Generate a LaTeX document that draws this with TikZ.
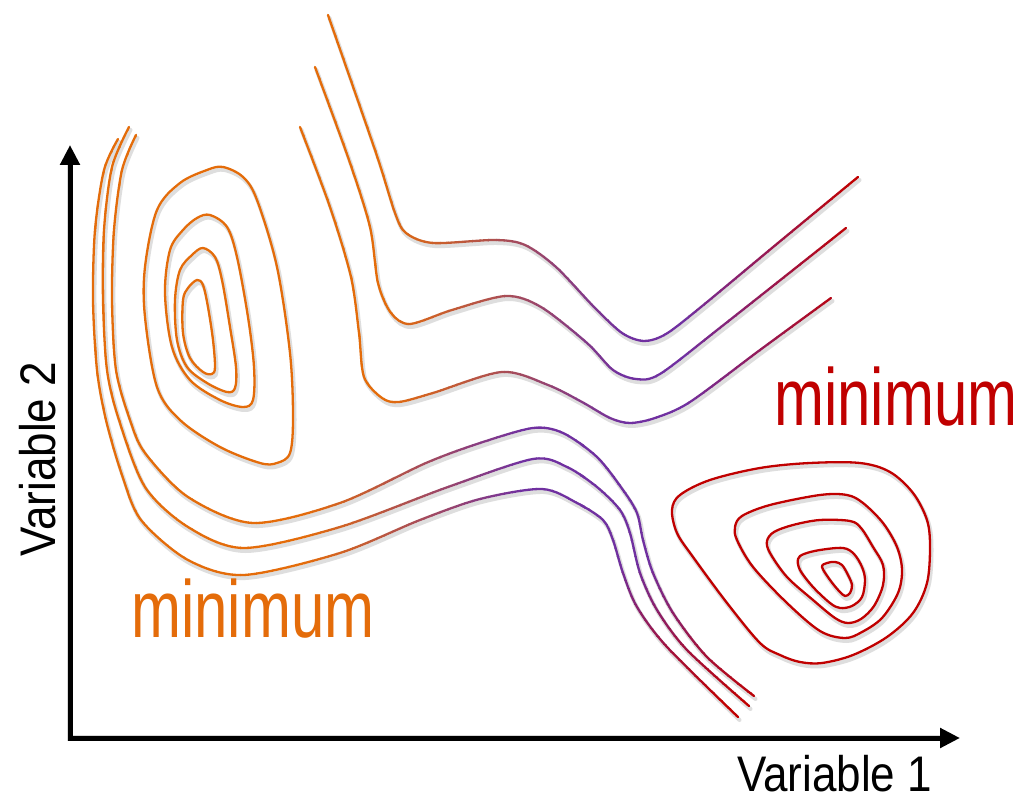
\documentclass[tikz,border=0pt]{standalone}
\usepackage{fontspec}
\setmainfont{Liberation Sans}
\usetikzlibrary{arrows.meta}
\definecolor{orng}{RGB}{228,108,10}
\definecolor{purp}{RGB}{112,48,160}
\definecolor{crim}{RGB}{192,0,0}
% upper valley curves
\newcommand\cUtop{plot[smooth,tension=.5] coordinates{(328,15) (376,153) (395,213) (406,233) (433,243) (495,240) (525,245) (556,267) (594,307) (622,333) (644,341) (666,334) (701,307) (778,243) (858,177)}}
\newcommand\cUmid{plot[smooth,tension=.5] coordinates{(315,67) (349,160) (370,227) (378,283) (391,313) (410,324) (452,310) (506,296) (541,307) (587,343) (613,370) (636,379) (660,374) (721,327) (846,228)}}
\newcommand\cUbot{plot[smooth,tension=.5] coordinates{(300,127) (330,207) (351,277) (359,333) (364,377) (382,398) (399,402) (433,393) (502,372) (548,385) (582,402) (610,418) (630,423) (655,418) (690,402) (760,350) (831,298)}}
% lower long curves
\newcommand\cLa{plot[smooth,tension=.5] coordinates{(118,139) (104,170) (95,230) (93,300) (97,370) (106,420) (122,475) (141,520) (188,560) (244,575) (340,553) (420,520) (480,499) (542,489) (577,503) (603,520) (613,540) (623,573) (637,607) (667,647) (738,717)}}
\newcommand\cLb{plot[smooth,tension=.5] coordinates{(129,127) (112,167) (104,230) (103,300) (107,370) (119,420) (145,487) (188,527) (244,548) (340,527) (448,487) (533,459) (567,467) (597,487) (620,510) (630,533) (640,573) (657,610) (687,650) (749,706)}}
\newcommand\cLc{plot[smooth,tension=.5] coordinates{(136,135) (122,170) (114,230) (112,300) (116,370) (130,420) (145,453) (188,497) (253,523) (340,503) (426,463) (480,443) (533,428) (563,433) (597,457) (623,490) (637,513) (643,540) (653,573) (673,613) (707,657) (754,696)}}
% orange closed loops
\newcommand\cOd{plot[smooth cycle,tension=.55] coordinates{(223,167) (243,177) (257,200) (277,267) (290,353) (293,417) (290,453) (277,463) (260,463) (220,447) (180,420) (157,387) (145,317) (145,267) (157,210) (180,183) (207,170)}}
\newcommand\cOc{plot[smooth cycle,tension=.55] coordinates{(210,215) (227,227) (237,257) (248,317) (254,367) (253,400) (243,407) (220,400) (190,380) (172,347) (165,293) (170,250) (183,230) (197,218)}}
\newcommand\cOb{plot[smooth cycle,tension=.55] coordinates{(203,248) (215,257) (222,280) (230,327) (236,367) (235,388) (227,392) (207,383) (187,367) (177,340) (175,300) (180,270) (192,255)}}
\newcommand\cOa{plot[smooth cycle,tension=.55] coordinates{(197,280) (203,285) (208,307) (213,340) (215,367) (212,374) (203,372) (190,358) (183,333) (183,300) (188,288)}}
% red closed loops
\newcommand\cRe{plot[smooth cycle,tension=.55] coordinates{(672,510) (680,495) (710,480) (760,468) (810,463) (860,463) (890,472) (913,493) (927,520) (930,547) (927,583) (913,613) (887,637) (853,655) (822,663) (800,662) (780,655) (760,643) (727,603) (693,557) (677,533)}}
\newcommand\cRd{plot[smooth cycle,tension=.55] coordinates{(735,527) (742,516) (770,505) (820,495) (847,495) (863,503) (883,523) (897,547) (902,570) (898,593) (882,618) (862,632) (845,638) (820,631) (787,603) (753,567) (737,540)}}
\newcommand\cRc{plot[smooth cycle,tension=.55] coordinates{(767,541) (774,532) (793,525) (820,520) (850,521) (861,528) (873,547) (883,565) (883,585) (874,606) (861,619) (848,623) (835,618) (813,600) (787,577) (770,553)}}
\newcommand\cRb{plot[smooth cycle,tension=.55] coordinates{(798,559) (804,554) (820,550) (843,548) (854,554) (862,567) (865,580) (862,597) (852,606) (840,608) (830,603) (813,587) (800,570)}}
\newcommand\cRa{plot[smooth cycle,tension=.55] coordinates{(822,567) (827,563) (835,562) (842,565) (848,575) (852,585) (850,593) (845,596) (839,591) (830,580)}}
\tikzset{
  cl/.style={line width=2.3pt, line cap=round, line join=round},
  shd/.style={line width=4pt, draw=black!13, line cap=round, line join=round},
  axis/.style={line width=5pt, line join=miter, {Triangle[length=20pt,width=19pt]}-{Triangle[length=20pt,width=19pt]}},
  lbl/.style={inner sep=0pt, anchor=base west, text depth=0pt},
}
\begin{document}
\begin{tikzpicture}[x=1pt,y=-1pt]
\useasboundingbox[fill=white] (0,0) rectangle (1017,799);
\coordinate (ytip) at (70,145);
\coordinate (origin) at (70,738);
\coordinate (xtip) at (960,738);
% shadows
\begin{scope}[shift={(1.5,3)}]
  \draw[shd] \cUtop \cUmid \cUbot \cLa \cLb \cLc;
  \draw[shd] \cOa \cOb \cOc \cOd \cRa \cRb \cRc \cRd \cRe;
  \draw[axis, draw=black!15, line width=6pt] (ytip) -- (origin) -- (xtip);
\end{scope}
% axes
\draw[axis] (ytip) -- (origin) -- (xtip);
% upper curves, colour changing along x
\foreach \x in {288,296,...,872}{
  \pgfmathsetmacro\pa{max(0,min(100,(\x-380)/2.4))}
  \pgfmathsetmacro\pb{max(0,min(100,(\x-680)/1.7))}
  \colorlet{bandA}{purp!\pa!orng}
  \colorlet{bandB}{crim!\pb!bandA}
  \begin{scope}
    \clip (\x,0) rectangle ++(8.6,799);
    \draw[cl, bandB] \cUtop \cUmid \cUbot;
  \end{scope}
}
% lower curves: left part along x
\foreach \x in {80,88,...,576}{
  \pgfmathsetmacro\pa{max(0,min(100,(\x-300)/2.2))}
  \colorlet{bandA}{purp!\pa!orng}
  \begin{scope}
    \clip (\x,0) rectangle ++(8.6,799);
    \draw[cl, bandA] \cLa \cLb \cLc;
  \end{scope}
}
% lower curves: descending part along y
\foreach \y in {380,388,...,736}{
  \pgfmathsetmacro\pb{max(0,min(100,(\y-560)/1.4))}
  \colorlet{bandB}{crim!\pb!purp}
  \begin{scope}
    \clip (580,\y) rectangle ++(300,8.6);
    \draw[cl, bandB] \cLa \cLb \cLc;
  \end{scope}
}
% closed loops
\draw[cl, orng] \cOa \cOb \cOc \cOd;
\draw[cl, crim] \cRa \cRb \cRc \cRd \cRe;
% labels
\node[lbl, orng] (minO) at (131,637) {\fontsize{81}{90}\selectfont\scalebox{0.74}[1]{minimum}};
\node[lbl, crim] (minR) at (774,425) {\fontsize{81}{90}\selectfont\scalebox{0.74}[1]{minimum}};
\node[lbl] (v1) at (737,791) {\fontsize{50}{60}\selectfont\scalebox{0.88}[1]{Variable 1}};
\node[lbl, rotate=90] (v2) at (55,557) {\fontsize{50}{60}\selectfont\scalebox{0.88}[1]{Variable 2}};
\end{tikzpicture}
\end{document}
